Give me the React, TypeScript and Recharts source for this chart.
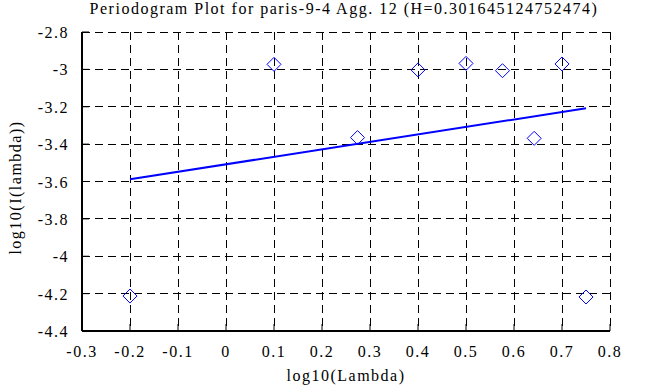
import React from "react";
import {
  ScatterChart,
  Scatter,
  XAxis,
  YAxis,
  CartesianGrid,
  Label,
} from "recharts";

// periodogram points (log10 lambda vs log10 I(lambda))
const logLambda = [-0.2, 0.1, 0.274, 0.4, 0.5, 0.576, 0.642, 0.7, 0.75];
const logI = [-4.213, -2.973, -3.365, -3.003, -2.968, -3.007, -3.369, -2.971, -4.218];

// fitted regression line endpoints
const fitLambda = [-0.2, 0.75];
const fitI = [-3.588, -3.208];

const xTicks = [-0.3, -0.2, -0.1, 0, 0.1, 0.2, 0.3, 0.4, 0.5, 0.6, 0.7, 0.8];
const yTicks = [-4.4, -4.2, -4, -3.8, -3.6, -3.4, -3.2, -3, -2.8];

const title = "Periodogram Plot for paris-9-4 Agg. 12 (H=0.301645124752474)";

const points = logLambda.map((x, i) => ({ x, y: logI[i] }));
const fit = fitLambda.map((x, i) => ({ x, y: fitI[i] }));

const FONT = "'Liberation Serif', 'Times New Roman', serif";
const BLUE = "#0000ff";
const SPACING = 1.5;

// eslint-disable-next-line @typescript-eslint/no-explicit-any
const Diamond = (props: any) => {
  const { cx, cy } = props;
  const r = 7;
  return (
    <path
      d={`M${cx},${cy - r}L${cx + r},${cy}L${cx},${cy + r}L${cx - r},${cy}Z`}
      fill="none"
      stroke={BLUE}
      strokeWidth={1}
    />
  );
};

const NoDot = () => <g />;

// eslint-disable-next-line @typescript-eslint/no-explicit-any
const XTick = (props: any) => {
  const { x, y, payload } = props;
  return (
    <text
      x={x}
      y={y + 12}
      textAnchor="middle"
      fontSize={16}
      letterSpacing={SPACING}
      fontFamily={FONT}
      fill="#000"
    >
      {payload.value}
    </text>
  );
};

// eslint-disable-next-line @typescript-eslint/no-explicit-any
const YTick = (props: any) => {
  const { x, y, payload } = props;
  return (
    <text
      x={x}
      y={y + 6}
      textAnchor="end"
      fontSize={16}
      letterSpacing={SPACING}
      fontFamily={FONT}
      fill="#000"
    >
      {payload.value}
    </text>
  );
};

const axisLine = { stroke: "#000", strokeWidth: 2 };

export default function App() {
  return (
    <div style={{ position: "absolute", left: 0, top: 0, fontFamily: FONT }}>
      <ScatterChart
        width={653}
        height={387}
        margin={{ top: 32, right: 43, left: 22, bottom: 0 }}
        style={{ fontFamily: FONT, background: "#fff" }}
      >
        <CartesianGrid
          stroke="#000"
          strokeDasharray="8 5"
          shapeRendering="crispEdges"
        />
        <XAxis
          type="number"
          dataKey="x"
          domain={[-0.3, 0.8]}
          ticks={xTicks}
          interval={0}
          height={56}
          tickSize={-7}
          tickMargin={21}
          tick={<XTick />}
          tickLine={{ stroke: "#000" }}
          axisLine={axisLine}
          allowDataOverflow
        >
          <Label
            content={({ viewBox }: any) => (
              <text
                x={viewBox.x + viewBox.width / 2}
                y={viewBox.y + 50}
                textAnchor="middle"
                fontSize={16}
                letterSpacing={SPACING}
                fontFamily={FONT}
                fill="#000"
              >
                log10(Lambda)
              </text>
            )}
          />
        </XAxis>
        <XAxis
          xAxisId="top"
          orientation="top"
          type="number"
          domain={[-0.3, 0.8]}
          ticks={xTicks}
          interval={0}
          height={0}
          tickSize={-7}
          tick={false}
          tickLine={{ stroke: "#000" }}
          axisLine={axisLine}
          allowDataOverflow
        />
        <YAxis
          type="number"
          dataKey="y"
          domain={[-4.4, -2.8]}
          ticks={yTicks}
          interval={0}
          width={60}
          tickSize={-7}
          tickMargin={20}
          tick={<YTick />}
          tickLine={{ stroke: "#000" }}
          axisLine={axisLine}
          allowDataOverflow
        >
          <Label
            content={({ viewBox }: any) => {
              const cx = viewBox.x - 7;
              const cy = viewBox.y + viewBox.height / 2 + 6;
              return (
                <text
                  x={cx}
                  y={cy}
                  transform={`rotate(-90 ${cx} ${cy})`}
                  textAnchor="middle"
                  dominantBaseline="central"
                  fontSize={16}
                  letterSpacing={SPACING}
                  fontFamily={FONT}
                  fill="#000"
                >
                  log10(I(lambda))
                </text>
              );
            }}
          />
        </YAxis>
        <YAxis
          yAxisId="right"
          orientation="right"
          type="number"
          domain={[-4.4, -2.8]}
          ticks={yTicks}
          interval={0}
          width={0}
          tickSize={-7}
          tick={false}
          tickLine={{ stroke: "#000" }}
          axisLine={axisLine}
          allowDataOverflow
        />
        <Scatter
          data={fit}
          line={{ stroke: BLUE, strokeWidth: 2 }}
          shape={NoDot}
          isAnimationActive={false}
        />
        <Scatter data={points} shape={Diamond} isAnimationActive={false} />
        <text
          x={344}
          y={14}
          textAnchor="middle"
          fontSize={16}
          letterSpacing={SPACING}
          fontFamily={FONT}
          fill="#000"
        >
          {title}
        </text>
      </ScatterChart>
    </div>
  );
}
